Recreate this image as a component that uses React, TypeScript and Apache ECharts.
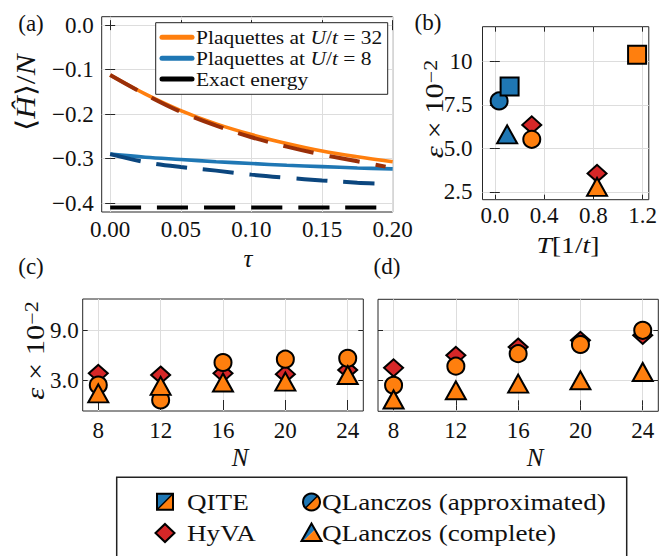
import React, { useEffect, useRef } from 'react';
import * as echarts from 'echarts';

// ---------- data: panel (a) ----------
const tauSolid = [0, 0.025, 0.05, 0.075, 0.1, 0.125, 0.15, 0.175, 0.2];
const plaq32 = [-0.112, -0.155, -0.192, -0.222, -0.246, -0.266, -0.283, -0.296, -0.307];
const plaq8 = [-0.29, -0.297, -0.302, -0.307, -0.311, -0.315, -0.318, -0.321, -0.323];
const tauDash32 = [0, 0.025, 0.05, 0.075, 0.1, 0.125, 0.15, 0.175, 0.195];
const ite32 = [-0.112, -0.156, -0.195, -0.226, -0.252, -0.273, -0.291, -0.306, -0.318];
const tauDash8 = [0, 0.025, 0.05, 0.075, 0.1, 0.125, 0.15, 0.175, 0.19];
const ite8 = [-0.29, -0.308, -0.319, -0.327, -0.336, -0.343, -0.349, -0.354, -0.356];
const tauExact = [0, 0.19];
const exactEnergy = [-0.41, -0.41];
const tauTicks = [0, 0.05, 0.1, 0.15, 0.2];
const energyTicks = [0, -0.1, -0.2, -0.3, -0.4];

// ---------- data: panel (b) (eps x 1e-2 vs T[1/t]) ----------
const qiteT = [0.12, 1.155];
const qiteEps = [8.56, 10.39];
const qlApproxT = [0.035, 0.3];
const qlApproxEps = [7.73, 5.52];
const qlCompleteT = [0.1, 0.83];
const qlCompleteEps = [5.81, 2.79];
const hyvaT = [0.3, 0.83];
const hyvaEps = [6.35, 3.56];
const bColors = ['#1f77b4', '#ff7f0e']; // U/t = 8, U/t = 32
const bTicksX = [0, 0.4, 0.8, 1.2];
const bTicksY = [2.5, 5, 7.5, 10];

// ---------- data: panels (c), (d) (eps x 1e-2 vs N) ----------
const sizesN = [8, 12, 16, 20, 24];
const hyvaC = [3.8, 3.6, 3.8, 3.7, 4.2];
const qlApproxC = [2.4, 0.6, 5.1, 5.5, 5.6];
const qlCompleteC = [1.4, 2.3, 2.7, 2.8, 3.6];
const hyvaD = [4.5, 6.0, 7.0, 7.8, 8.4];
const qlApproxD = [2.4, 4.7, 6.2, 7.3, 9.0];
const qlCompleteD = [0.7, 1.8, 2.6, 3.0, 4.0];
const nTicks = [8, 12, 16, 20, 24];
const cdTicksY = [3, 9];

const FONT = '"Liberation Serif", "Times New Roman", serif';
const BLUE = '#1f77b4';
const ORANGE = '#ff7f0e';
const RED = '#d62728';
const DARKRED = '#9a2f08';
const DARKBLUE = '#0b467e';
const GRIDC = '#dddddd';
const FRAME = '#262626';

const zip = (xs: number[], ys: number[]) => xs.map((x, i) => [x, ys[i]]);
const fmtMinus = (v: number, d: number) => (v < 0 ? '\u2212' : '') + Math.abs(v).toFixed(d);

function axesPair(kind: 'x' | 'y', gridIndex: number, min: number, max: number, ticks: number[], fmt: ((v: number) => string) | null, margin = 8) {
  const tick = { show: true, inside: true, length: 5, customValues: ticks, lineStyle: { color: FRAME, width: 1 } };
  const main: any = {
    type: 'value', gridIndex, min, max,
    position: kind === 'x' ? 'bottom' : 'left',
    axisLine: { show: false },
    axisTick: tick,
    axisLabel: fmt
      ? { show: true, customValues: ticks, formatter: fmt, margin, color: '#111', fontFamily: FONT, fontSize: 23 }
      : { show: false },
    splitLine: { show: true, lineStyle: { color: GRIDC, width: 1 } },
  };
  const mirror: any = {
    type: 'value', gridIndex, min, max,
    position: kind === 'x' ? 'top' : 'right',
    axisLine: { show: false },
    axisTick: tick,
    axisLabel: { show: false },
    splitLine: { show: false },
  };
  return [main, mirror];
}

function lineSeries(name: string, xs: number[], ys: number[], color: string, dashed: boolean, width: number, z: number) {
  return {
    type: 'line', name, xAxisIndex: 0, yAxisIndex: 0,
    data: zip(xs, ys), showSymbol: false, symbol: 'none', smooth: 0.35, z,
    lineStyle: { color, width, type: dashed ? [31, 16] : 'solid', cap: 'butt' },
  };
}

function scatter(xi: number, yi: number, data: number[][], symbol: string, size: any, color: string | ((p: any) => string), z: number) {
  return {
    type: 'scatter', xAxisIndex: xi, yAxisIndex: yi, data, symbol, symbolSize: size, z, clip: false,
    itemStyle: { color, borderColor: '#000', borderWidth: 2, opacity: 1 },
  };
}

const SQ = 18;
const CIRC = 17;
const TRI = [20, 18];
const DIA = [19, 17];

function buildOption() {
  const xAxis = [
    ...axesPair('x', 0, -0.006, 0.2, tauTicks, (v) => v.toFixed(2), 5.5),
    ...axesPair('x', 1, -0.1, 1.25, bTicksX, (v) => v.toFixed(1), 4),
    ...axesPair('x', 2, 7, 25, nTicks, (v) => String(v), 7.5),
    ...axesPair('x', 3, 7, 25, nTicks, (v) => String(v), 7.5),
  ];
  const yAxis = [
    ...axesPair('y', 0, -0.42, 0.019, energyTicks, (v) => fmtMinus(v, 1), 8),
    ...axesPair('y', 1, 2.05, 12, bTicksY, (v) => (v >= 10 ? String(v) : v.toFixed(1)), 10),
    ...axesPair('y', 2, -0.72, 12.72, cdTicksY, (v) => v.toFixed(1), 4),
    ...axesPair('y', 3, -0.72, 12.72, cdTicksY, null),
  ];
  const grid = [
    { left: 101.7, top: 16.7, width: 291, height: 195.3 },
    { left: 482.5, top: 26.7, width: 167.5, height: 173 },
    { left: 82.7, top: 299, width: 280.6, height: 112 },
    { left: 378, top: 299.3, width: 280.3, height: 112 },
  ].map((g) => ({ ...g, show: true, borderColor: FRAME, borderWidth: 1, backgroundColor: '#fff', containLabel: false }));

  const bColor = (p: any) => bColors[p.dataIndex];
  const series: any[] = [
    lineSeries('Plaquettes at U/t = 32', tauSolid, plaq32, ORANGE, false, 3.6, 2),
    lineSeries('Plaquettes at U/t = 8', tauSolid, plaq8, BLUE, false, 3.6, 2),
    lineSeries('Exact energy', tauExact, exactEnergy, '#000', true, 4, 3),
    lineSeries('ITE U/t = 32', tauDash32, ite32, DARKRED, true, 4, 4),
    lineSeries('ITE U/t = 8', tauDash8, ite8, DARKBLUE, true, 4, 4),
    // panel b
    scatter(2, 2, zip(hyvaT, hyvaEps), 'diamond', DIA, RED, 3),
    scatter(2, 2, zip(qlApproxT, qlApproxEps), 'circle', CIRC, bColor, 4),
    scatter(2, 2, zip(qlCompleteT, qlCompleteEps), 'triangle', TRI, bColor, 5),
    scatter(2, 2, zip(qiteT, qiteEps), 'rect', SQ, bColor, 6),
    // panel c
    scatter(4, 4, zip(sizesN, hyvaC), 'diamond', DIA, RED, 3),
    scatter(4, 4, zip(sizesN, qlApproxC), 'circle', CIRC, ORANGE, 4),
    scatter(4, 4, zip(sizesN, qlCompleteC), 'triangle', TRI, ORANGE, 5),
    // panel d
    scatter(6, 6, zip(sizesN, hyvaD), 'diamond', DIA, RED, 3),
    scatter(6, 6, zip(sizesN, qlApproxD), 'circle', CIRC, ORANGE, 4),
    scatter(6, 6, zip(sizesN, qlCompleteD), 'triangle', TRI, ORANGE, 5),
  ];

  const txt = (x: number, y: number, text: string, size: number, extra: any = {}) => ({
    type: 'text', x, y, z: 50, ...extra,
    style: { text, fontFamily: FONT, fontSize: size, fill: '#111', align: 'center', verticalAlign: 'middle', ...(extra.style || {}) },
  });
  const richBase = (size: number, lh?: number) => ({
    n: { fontFamily: FONT, fontSize: size, fill: '#111', lineHeight: lh },
    i: { fontFamily: FONT, fontSize: size, fontStyle: 'italic', fill: '#111', lineHeight: lh },
    s: { fontFamily: FONT, fontSize: Math.round(size * 0.7), fill: '#111', verticalAlign: 'top' },
  });
  const epsLabel = '{i|\u03b5}{n| \u00d7 10}{s|\u22122}';

  const legA = [
    { t: '{n|Plaquettes at }{i|U}{n|/}{i|t}{n| = 32}', c: ORANGE, y: 37.3 },
    { t: '{n|Plaquettes at }{i|U}{n|/}{i|t}{n| = 8}', c: BLUE, y: 58.3 },
    { t: '{n|Exact energy}', c: '#000', y: 79 },
  ];

  // bottom legend geometry
  const sqC = [165, 501.7];
  const diC = [165, 533];
  const ciC = [311.5, 502];
  const trC = [311.5, 533];
  const h = 8;
  const trA = [trC[0], trC[1] - 9.5];
  const trB = [trC[0] - 10, trC[1] + 8];
  const trCc = [trC[0] + 10, trC[1] + 8];
  const legTxt = (x: number, y: number, text: string) => ({
    type: 'text', z: 42, x, y, scaleX: 1.13,
    style: { text, fontFamily: FONT, fontSize: 24, lineHeight: 25, fill: '#111', align: 'left', verticalAlign: 'middle' },
  });

  const graphic: any[] = [
    // panel labels
    txt(31, 23, '(a)', 23),
    txt(428, 22, '(b)', 23),
    txt(31, 266, '(c)', 23),
    txt(387, 266, '(d)', 23),
    // axis names
    txt(26, 93, '{n|\u27e8}{i|\u0124}{n|\u27e9/}{i|N}', 27, { rotation: Math.PI / 2, scaleX: 1.15, style: { rich: richBase(27) } }),
    txt(248, 258, '{i|\u03c4}', 25, { style: { rich: richBase(25) } }),
    txt(434, 109, epsLabel, 25, { rotation: Math.PI / 2, scaleX: 1.22, style: { rich: richBase(25) } }),
    txt(568, 245, '{i|T}{n|[1/}{i|t}{n|]}', 24, { scaleX: 1.15, style: { rich: richBase(24, 22) } }),
    txt(35, 350.5, epsLabel, 25, { rotation: Math.PI / 2, scaleX: 1.22, style: { rich: richBase(25) } }),
    txt(240, 457, '{i|N}', 25, { style: { rich: richBase(25) } }),
    txt(535, 457, '{i|N}', 25, { style: { rich: richBase(25) } }),
    // legend (a)
    { type: 'rect', z: 40, shape: { x: 155.7, y: 22.7, width: 232, height: 71.6 }, style: { fill: '#fff', stroke: '#222', lineWidth: 1 } },
    ...legA.map((l) => ({ type: 'line', z: 41, shape: { x1: 162, y1: l.y, x2: 192, y2: l.y }, style: { stroke: l.c, lineWidth: 5, lineCap: 'round' } })),
    ...legA.map((l) => ({
      type: 'text', z: 42, x: 196, y: l.y, scaleX: 1.13,
      style: { text: l.t, rich: richBase(19, 18), align: 'left', verticalAlign: 'middle' },
    })),
    // bottom legend
    { type: 'rect', z: 40, shape: { x: 116.7, y: 477.3, width: 510, height: 90 }, style: { fill: '#fff', stroke: '#222', lineWidth: 1.5 } },
    { type: 'polygon', z: 41, shape: { points: [[sqC[0] - h, sqC[1] - h], [sqC[0] + h, sqC[1] - h], [sqC[0] - h, sqC[1] + h]] }, style: { fill: BLUE } },
    { type: 'polygon', z: 41, shape: { points: [[sqC[0] + h, sqC[1] - h], [sqC[0] + h, sqC[1] + h], [sqC[0] - h, sqC[1] + h]] }, style: { fill: ORANGE } },
    { type: 'polyline', z: 42, shape: { points: [[sqC[0] + h, sqC[1] - h], [sqC[0] - h, sqC[1] + h]] }, style: { stroke: '#000', lineWidth: 1.5 } },
    { type: 'rect', z: 42, shape: { x: sqC[0] - h, y: sqC[1] - h, width: 2 * h, height: 2 * h }, style: { fill: 'none', stroke: '#000', lineWidth: 2 } },
    { type: 'polygon', z: 41, shape: { points: [[diC[0], diC[1] - 9], [diC[0] + 9.5, diC[1]], [diC[0], diC[1] + 9], [diC[0] - 9.5, diC[1]]] }, style: { fill: RED, stroke: '#000', lineWidth: 2 } },
    { type: 'sector', z: 41, shape: { cx: ciC[0], cy: ciC[1], r: 8.5, r0: 0, startAngle: (3 * Math.PI) / 4, endAngle: (7 * Math.PI) / 4, clockwise: true }, style: { fill: BLUE } },
    { type: 'sector', z: 41, shape: { cx: ciC[0], cy: ciC[1], r: 8.5, r0: 0, startAngle: -Math.PI / 4, endAngle: (3 * Math.PI) / 4, clockwise: true }, style: { fill: ORANGE } },
    { type: 'polyline', z: 42, shape: { points: [[ciC[0] + 6, ciC[1] - 6], [ciC[0] - 6, ciC[1] + 6]] }, style: { stroke: '#000', lineWidth: 1.5 } },
    { type: 'circle', z: 42, shape: { cx: ciC[0], cy: ciC[1], r: 8.5 }, style: { fill: 'none', stroke: '#000', lineWidth: 2 } },
    { type: 'polygon', z: 41, shape: { points: [trA, [trC[0] + 3.3, trC[1] - 3.3], [trC[0] - 8, trB[1]], trB] }, style: { fill: BLUE } },
    { type: 'polygon', z: 41, shape: { points: [[trC[0] + 3.3, trC[1] - 3.3], trCc, [trC[0] - 8, trB[1]]] }, style: { fill: ORANGE } },
    { type: 'polygon', z: 42, shape: { points: [trA, trB, trCc] }, style: { fill: 'none', stroke: '#000', lineWidth: 2 } },
    legTxt(187, sqC[1], 'QITE'),
    legTxt(187, diC[1], 'HyVA'),
    legTxt(322, ciC[1], 'QLanczos (approximated)'),
    legTxt(322, trC[1], 'QLanczos (complete)'),
  ];

  return {
    animation: false, backgroundColor: '#fff',
    textStyle: { fontFamily: FONT },
    grid, xAxis, yAxis, series, graphic,
  };
}

export default function App() {
  const ref = useRef<HTMLDivElement>(null);
  useEffect(() => {
    if (!ref.current) return;
    const chart = echarts.init(ref.current, undefined, { renderer: 'svg' });
    chart.setOption(buildOption() as any);
    return () => chart.dispose();
  }, []);
  return <div ref={ref} style={{ position: 'fixed', left: 0, top: 0, width: 660, height: 556, background: '#fff' }} />;
}
